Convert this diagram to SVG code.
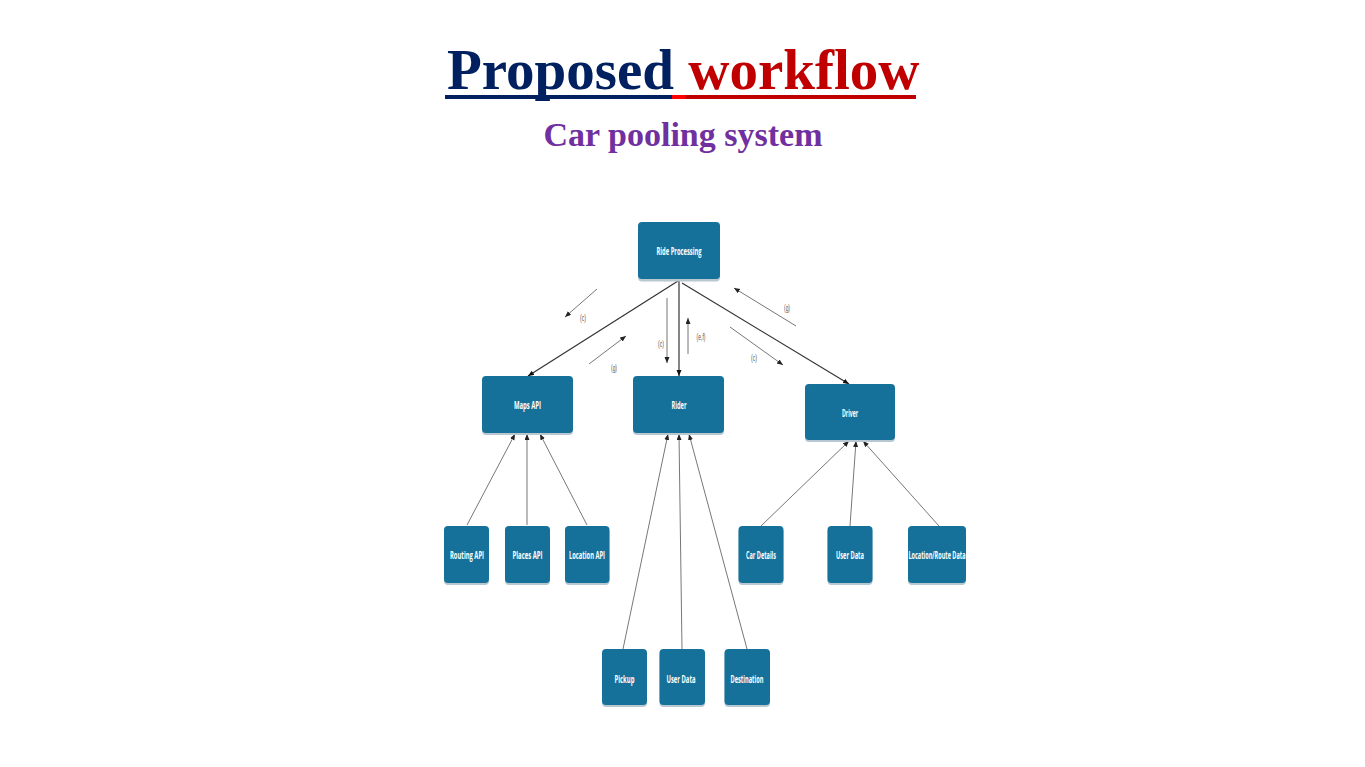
<svg xmlns="http://www.w3.org/2000/svg" width="1365" height="767" viewBox="0 0 1365 767">
<style>
.title{font-family:"Liberation Serif","Times New Roman",serif;font-weight:bold;}
.node rect.b{fill:#15719a;}
.node rect.s{fill:#b8c8d2;}
.node text{font-family:"Open Sans","Liberation Sans",sans-serif;font-weight:bold;font-size:11px;fill:#ffffff;text-anchor:middle;}
.lbl{font-family:"Liberation Sans",sans-serif;font-size:9px;fill:#555555;text-anchor:middle;}
.c{stroke:#777;stroke-width:1;fill:none;marker-end:url(#ah);}
.cd{stroke:#333;stroke-width:1.2;fill:none;marker-end:url(#ahd);}
</style>
<defs>
<marker id="ah" markerUnits="userSpaceOnUse" markerWidth="8" markerHeight="6" refX="6" refY="2.5" orient="auto"><path d="M0,0 L6,2.5 L0,5 Z" fill="#222"/></marker>
<marker id="ahd" markerUnits="userSpaceOnUse" markerWidth="8" markerHeight="6" refX="6" refY="2.5" orient="auto"><path d="M0,0 L6,2.5 L0,5 Z" fill="#111"/></marker>
</defs>
<rect width="1365" height="767" fill="#ffffff"/>
<g id="title">
<text class="title" x="447" y="89" font-size="57"><tspan fill="#002060">Proposed</tspan><tspan fill="#C00000"> workflow</tspan></text>
<rect x="445" y="95" width="227" height="4" fill="#002060"/>
<rect x="672" y="95" width="14" height="4" fill="#ff0000"/>
<rect x="686" y="95" width="230" height="4" fill="#C00000"/>
<text class="title" x="683" y="146" font-size="34" fill="#7030A0" text-anchor="middle">Car pooling system</text>
</g>
<g id="connectors">
<line class="cd" x1="678" y1="281" x2="528" y2="376"/>
<line class="cd" x1="679" y1="281" x2="679" y2="376"/>
<line class="cd" x1="682" y1="283" x2="849" y2="384"/>
<line class="c" x1="597" y1="289" x2="565" y2="317"/>
<line class="c" x1="589" y1="364" x2="626" y2="336"/>
<line class="c" x1="667" y1="298" x2="667" y2="363"/>
<line class="c" x1="688" y1="354" x2="688" y2="318"/>
<line class="c" x1="796" y1="326" x2="734" y2="288"/>
<line class="c" x1="730" y1="327" x2="783" y2="365"/>
<line class="c" x1="467" y1="525" x2="515" y2="434"/>
<line class="c" x1="527" y1="525" x2="527" y2="434"/>
<line class="c" x1="587" y1="525" x2="540" y2="434"/>
<line class="c" x1="623" y1="649" x2="668" y2="434"/>
<line class="c" x1="682" y1="649" x2="679" y2="434"/>
<line class="c" x1="747" y1="649" x2="689" y2="434"/>
<line class="c" x1="761" y1="526" x2="849" y2="441"/>
<line class="c" x1="850" y1="526" x2="856" y2="441"/>
<line class="c" x1="939" y1="526" x2="863" y2="441"/>
<text class="lbl" x="583" y="321" textLength="6" lengthAdjust="spacingAndGlyphs">(c)</text>
<text class="lbl" x="614" y="371" textLength="6" lengthAdjust="spacingAndGlyphs">(g)</text>
<text class="lbl" x="661" y="347" textLength="6" lengthAdjust="spacingAndGlyphs">(c)</text>
<text class="lbl" x="701" y="340" textLength="9" lengthAdjust="spacingAndGlyphs">(e,f)</text>
<text class="lbl" x="787" y="311" textLength="6" lengthAdjust="spacingAndGlyphs">(g)</text>
<text class="lbl" x="754" y="361" textLength="6" lengthAdjust="spacingAndGlyphs">(c)</text>
</g>
<g id="ride-processing" class="node"><rect class="s" x="638" y="224" width="82" height="57.5" rx="4"/><rect class="b" x="638" y="222" width="82" height="57" rx="4"/><text x="679" y="255" textLength="45" lengthAdjust="spacingAndGlyphs">Ride Processing</text></g>
<g id="maps-api" class="node"><rect class="s" x="482" y="378" width="91" height="57" rx="4"/><rect class="b" x="482" y="376" width="91" height="57" rx="4"/><text x="527.5" y="408.5" textLength="27" lengthAdjust="spacingAndGlyphs">Maps API</text></g>
<g id="rider" class="node"><rect class="s" x="633" y="378" width="91" height="57" rx="4"/><rect class="b" x="633" y="376" width="91" height="57" rx="4"/><text x="679" y="408.5" textLength="15" lengthAdjust="spacingAndGlyphs">Rider</text></g>
<g id="driver" class="node"><rect class="s" x="805" y="386" width="90" height="56" rx="4"/><rect class="b" x="805" y="384" width="90" height="56" rx="4"/><text x="850" y="416.5" textLength="16" lengthAdjust="spacingAndGlyphs">Driver</text></g>
<g id="routing-api" class="node"><rect class="s" x="444" y="528" width="45" height="57" rx="4"/><rect class="b" x="444" y="526" width="45" height="57" rx="4"/><text x="467" y="558.5" textLength="34" lengthAdjust="spacingAndGlyphs">Routing API</text></g>
<g id="places-api" class="node"><rect class="s" x="505" y="528" width="45" height="57" rx="4"/><rect class="b" x="505" y="526" width="45" height="57" rx="4"/><text x="527.5" y="558.5" textLength="30" lengthAdjust="spacingAndGlyphs">Places API</text></g>
<g id="location-api" class="node"><rect class="s" x="565" y="528" width="44.5" height="57" rx="4"/><rect class="b" x="565" y="526" width="44.5" height="57" rx="4"/><text x="587" y="558.5" textLength="36" lengthAdjust="spacingAndGlyphs">Location API</text></g>
<g id="car-details" class="node"><rect class="s" x="738.5" y="528" width="45" height="57" rx="4"/><rect class="b" x="738.5" y="526" width="45" height="57" rx="4"/><text x="761" y="558.5" textLength="30" lengthAdjust="spacingAndGlyphs">Car Details</text></g>
<g id="driver-user-data" class="node"><rect class="s" x="827.5" y="528" width="45" height="57" rx="4"/><rect class="b" x="827.5" y="526" width="45" height="57" rx="4"/><text x="850" y="558.5" textLength="28" lengthAdjust="spacingAndGlyphs">User Data</text></g>
<g id="location-route-data" class="node"><rect class="s" x="908" y="528" width="58" height="57" rx="4"/><rect class="b" x="908" y="526" width="58" height="57" rx="4"/><text x="937" y="558.5" textLength="57" lengthAdjust="spacingAndGlyphs">Location/Route Data</text></g>
<g id="pickup" class="node"><rect class="s" x="602" y="651" width="45" height="56" rx="4"/><rect class="b" x="602" y="649" width="45" height="56" rx="4"/><text x="624.5" y="682.5" textLength="20" lengthAdjust="spacingAndGlyphs">Pickup</text></g>
<g id="rider-user-data" class="node"><rect class="s" x="659.5" y="651" width="45.5" height="56" rx="4"/><rect class="b" x="659.5" y="649" width="45.5" height="56" rx="4"/><text x="681" y="682.5" textLength="29" lengthAdjust="spacingAndGlyphs">User Data</text></g>
<g id="destination" class="node"><rect class="s" x="724.5" y="651" width="45.5" height="56" rx="4"/><rect class="b" x="724.5" y="649" width="45.5" height="56" rx="4"/><text x="747" y="682.5" textLength="33" lengthAdjust="spacingAndGlyphs">Destination</text></g>
</svg>
